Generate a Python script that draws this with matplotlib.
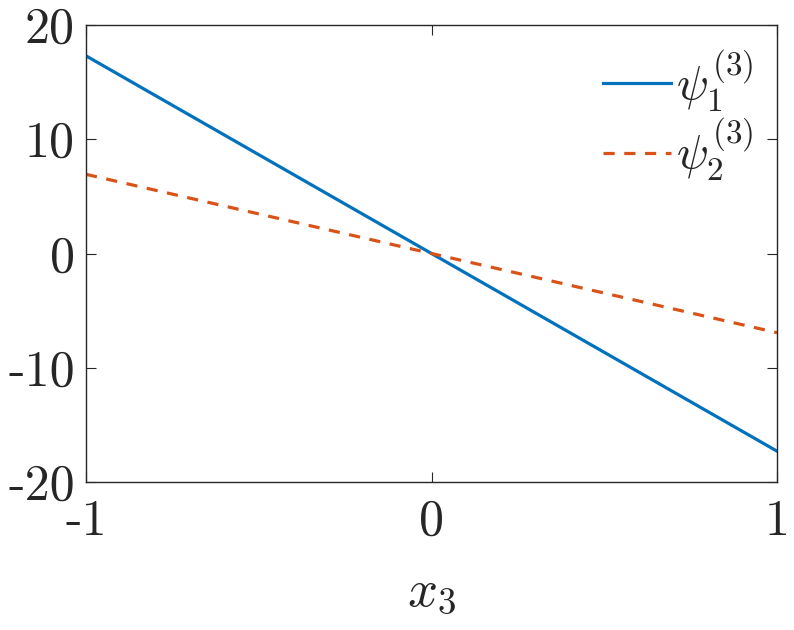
import matplotlib
matplotlib.use("Agg")
import matplotlib.pyplot as plt

x_vals = [-1.0, 1.0]
psi1 = [17.3, -17.3]
psi2 = [6.93, -6.93]
xticks = [-1, 0, 1]
xtick_labels = ["-1", "0", "1"]
yticks = [-20, -10, 0, 10, 20]
ytick_labels = ["-20", "-10", "0", "10", "20"]

plt.rcParams['mathtext.fontset'] = 'cm'
plt.rcParams['font.family'] = ['cmr10', 'DejaVu Serif']
plt.rcParams['axes.unicode_minus'] = False

fig = plt.figure(figsize=(7.94, 6.30), dpi=100)
ax = fig.add_axes([86/794, 1-482/630, (777-86)/794, (482-25)/630])

ax.plot(x_vals, psi1, color='#0072BD', lw=2.3, label=r'$\psi_1^{(3)}$')
ax.plot(x_vals, psi2, color='#D95319', lw=2.3, ls=(0, (3.5, 3.0)), label=r'$\psi_2^{(3)}$')

ax.set_xlim(-1, 1)
ax.set_ylim(-20, 20)
ax.set_xticks(xticks)
ax.set_xticklabels(xtick_labels)
ax.set_yticks(yticks)
ax.set_yticklabels(ytick_labels)
ax.tick_params(direction='in', top=True, right=True, length=7, width=0.8,
               labelsize=36, colors='#262626', pad=8)
ax.tick_params(axis='x', pad=12)
for s in ax.spines.values():
    s.set_linewidth(1.0)
    s.set_color('#262626')

ax.set_xlabel(r'$x_3$', fontsize=38, labelpad=18, color='#262626')

leg = ax.legend(loc='upper right', frameon=False, fontsize=34, handlelength=1.45,
                handletextpad=0.1, labelspacing=0.05, borderaxespad=0.1)
for t in leg.get_texts():
    t.set_color('#262626')

fig.savefig('out.png', dpi=100)
